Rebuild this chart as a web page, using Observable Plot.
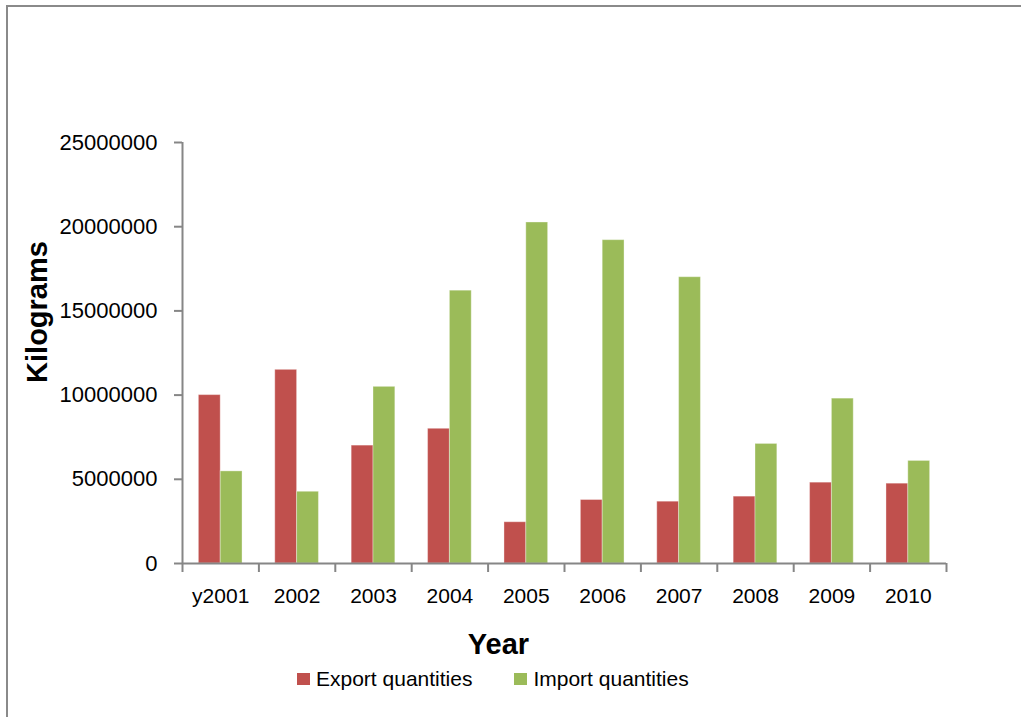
<!DOCTYPE html>
<html>
<head>
<meta charset="utf-8">
<script src="https://cdn.jsdelivr.net/npm/d3@7"></script>
<script src="https://cdn.jsdelivr.net/npm/@observablehq/plot@0.6"></script>
<style>
  html, body { margin: 0; padding: 0; background: #fff; width: 1021px; height: 717px; overflow: hidden; }
  #frame { position: absolute; left: 6px; top: 5px; width: 1100px; height: 800px;
           border-left: 2px solid #8a8a8a; border-top: 2px solid #8a8a8a; }
  #chart { position: absolute; left: 0; top: 0; }
  #legend { position: absolute; left: 297px; top: 667px; display: flex; align-items: center;
            font-family: "Liberation Sans", Arial, sans-serif; font-size: 21px; line-height: 24px; color: #000; }
  .sw { display: inline-block; width: 13px; height: 12px; margin-right: 6px; }
  .item { display: flex; align-items: center; }
  .item + .item { margin-left: 42px; }
</style>
</head>
<body>
<div id="frame"></div>
<div id="chart"></div>
<div id="legend"></div>
<script>
// ---- data ----
const years = ["y2001", "2002", "2003", "2004", "2005", "2006", "2007", "2008", "2009", "2010"];
const exportQty = [10000000, 11500000, 7000000, 8000000, 2450000, 3770000, 3670000, 3970000, 4800000, 4740000];
const importQty = [5470000, 4260000, 10490000, 16200000, 20250000, 19200000, 17000000, 7100000, 9790000, 6090000];
const seriesNames = ["Export quantities", "Import quantities"];
const seriesColors = ["#C0504D", "#9BBB59"];
const yTicks = [0, 5000000, 10000000, 15000000, 20000000, 25000000];

// ---- layout constants (Excel-style gap width 150%) ----
const gapWidth = 1.5;
const barW = 1 / (2 + gapWidth);
const axisGray = "#868686";

// table: one row per bar, positioned in category units through the x scale
const rows = [];
years.forEach((yr, i) => {
  rows.push({year: yr, series: seriesNames[0], value: exportQty[i], x1: i + 0.5 - barW, x2: i + 0.5});
  rows.push({year: yr, series: seriesNames[1], value: importQty[i], x1: i + 0.5, x2: i + 0.5 + barW});
});
const boundaries = d3.range(0, years.length + 1);
const centers = years.map((_, i) => i + 0.5);

const chart = Plot.plot({
  width: 1021,
  height: 660,
  marginLeft: 182,
  marginRight: 75,
  marginTop: 142,
  marginBottom: 97,
  style: {fontFamily: "Liberation Sans, Arial, sans-serif", fontSize: "21px", background: "transparent", color: "#000", overflow: "visible"},
  x: {domain: [0, years.length]},
  y: {domain: [0, 25000000]},
  color: {domain: seriesNames, range: seriesColors},
  marks: [
    Plot.rectY(rows, {x1: "x1", x2: "x2", y1: 0, y2: "value", fill: "series", stroke: "#ffffff", strokeOpacity: 0.35, strokeWidth: 1}),
    Plot.ruleX([0], {stroke: axisGray, strokeWidth: 2}),
    Plot.ruleY([0], {stroke: axisGray, strokeWidth: 2}),
    Plot.axisY({ticks: yTicks, tickSize: 8, tickPadding: 17, tickFormat: d3.format("d"), stroke: axisGray, strokeWidth: 2, fill: "#000", fontSize: 22, label: null}),
    Plot.axisX({ticks: boundaries, tickSize: 9, tickFormat: () => "", stroke: axisGray, strokeWidth: 2, label: null}),
    Plot.axisX({ticks: centers, tickSize: 0, tickPadding: 25, tickFormat: (d) => years[Math.floor(d)], fill: "#000", fontSize: 21, label: null}),
    Plot.text(["Kilograms"], {text: (d) => d, frameAnchor: "left", rotate: -90, textAnchor: "middle", lineAnchor: "middle", dx: -145, dy: -41, fontSize: 29, fontWeight: "bold", fill: "#000"}),
    Plot.text(["Year"], {text: (d) => d, frameAnchor: "bottom", textAnchor: "middle", lineAnchor: "bottom", dx: -66, dy: 90, fontSize: 29, fontWeight: "bold", fill: "#000"})
  ]
});
document.getElementById("chart").appendChild(chart);

// legend from the same series arrays
const legend = document.getElementById("legend");
seriesNames.forEach((name, k) => {
  const item = document.createElement("div");
  item.className = "item";
  const sw = document.createElement("span");
  sw.className = "sw";
  sw.style.background = seriesColors[k];
  const label = document.createElement("span");
  label.textContent = name;
  item.appendChild(sw);
  item.appendChild(label);
  legend.appendChild(item);
});
</script>
</body>
</html>
